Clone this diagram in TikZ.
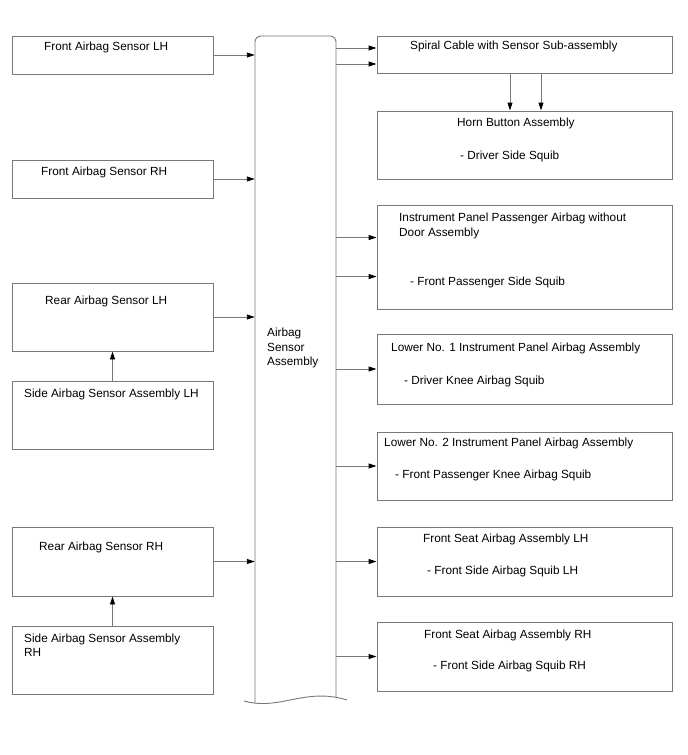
\documentclass[tikz,border=0pt]{standalone}
\usepackage{fontspec}
\setmainfont{Liberation Sans}
\usetikzlibrary{arrows.meta,fit}
\definecolor{linegray}{RGB}{120,120,120}
\tikzset{
  box/.style={draw=linegray, line width=0.9pt, inner sep=0pt, rectangle},
  txt/.style={anchor=base west, inner sep=0pt, font=\fontsize{11.8}{14.5}\selectfont},
  arr/.style={draw=linegray, line width=0.9pt, -{Triangle[length=8pt,width=5pt,color=black]}},
  ln/.style={draw=linegray, line width=0.9pt}
}
\begin{document}
\begin{tikzpicture}[x=1pt,y=-1pt]
\useasboundingbox (0,0) rectangle (688,755);
% left column
\node[box, fit={(12,36) (213,74)}] (fl) {};
\node[box, fit={(12,160) (213,198)}] (fr) {};
\node[box, fit={(12,283) (213,351)}] (rl) {};
\node[box, fit={(12,381) (213,449)}] (sl) {};
\node[box, fit={(12,527) (213,596)}] (rr) {};
\node[box, fit={(12,626) (213,694)}] (sr) {};
\node[txt] (flt) at (44,50) {Front Airbag Sensor LH};
\node[txt] (frt) at (41,175) {Front Airbag Sensor RH};
\node[txt] (rlt) at (45,304) {Rear Airbag Sensor LH};
\node[txt] (slt) at (24,397) {Side Airbag Sensor Assembly LH};
\node[txt] (rrt) at (39,550) {Rear Airbag Sensor RH};
\node[txt] (srt1) at (24,642) {Side Airbag Sensor Assembly};
\node[txt] (srt2) at (24,656) {RH};
% central
\node[inner sep=0pt, fit={(255,36) (336,703)}] (asa) {};
\draw[ln, rounded corners=6pt] (255,703) -- (255,36) -- (336,36) -- (336,697);
\draw[ln] (244,701) .. controls (280,711) and (305,687) .. (347,700);
\node[txt] (asa1) at (267,336) {Airbag};
\node[txt] (asa2) at (267,351) {Sensor};
\node[txt] (asa3) at (267,365) {Assembly};
% right column
\node[box, fit={(377,36) (672,73)}] (sp) {};
\node[box, fit={(377,111) (672,179)}] (hb) {};
\node[box, fit={(377,205) (672,309)}] (ip) {};
\node[box, fit={(377,334) (672,404)}] (l1) {};
\node[box, fit={(377,432) (672,500)}] (l2) {};
\node[box, fit={(377,527) (672,596)}] (fsl) {};
\node[box, fit={(377,622) (672,691)}] (fsr) {};
\node[txt] (spt) at (410,49) {Spiral Cable with Sensor Sub-assembly};
\node[txt] (hbt1) at (457,126) {Horn Button Assembly};
\node[txt] (hbt2) at (460,159) {- Driver Side Squib};
\node[txt] (ipt1) at (399,221) {Instrument Panel Passenger Airbag without};
\node[txt] (ipt2) at (399,236) {Door Assembly};
\node[txt] (ipt3) at (410,285) {- Front Passenger Side Squib};
\node[txt] (l1t1) at (391,351) {Lower No. 1 Instrument Panel Airbag Assembly};
\node[txt] (l1t2) at (404,384) {- Driver Knee Airbag Squib};
\node[txt] (l2t1) at (384,446) {Lower No. 2 Instrument Panel Airbag Assembly};
\node[txt] (l2t2) at (395,478) {- Front Passenger Knee Airbag Squib};
\node[txt] (fslt1) at (423,542) {Front Seat Airbag Assembly LH};
\node[txt] (fslt2) at (427,574) {- Front Side Airbag Squib LH};
\node[txt] (fsrt1) at (424,638) {Front Seat Airbag Assembly RH};
\node[txt] (fsrt2) at (433,669) {- Front Side Airbag Squib RH};
% connectors left
\draw[arr] (fl.east) -- (fl.east -| asa.west);
\draw[arr] (fr.east) -- (fr.east -| asa.west);
\draw[arr] (rl.east) -- (rl.east -| asa.west);
\draw[arr] (rr.east) -- (rr.east -| asa.west);
\draw[arr] (sl.north) -- (rl.south);
\draw[arr] (sr.north) -- (rr.south);
% connectors right
\draw[arr] ([yshift=6.5pt]sp.west -| asa.east) -- ([yshift=6.5pt]sp.west);
\draw[arr] ([yshift=-9.5pt]sp.west -| asa.east) -- ([yshift=-9.5pt]sp.west);
\draw[arr] ([xshift=-14.5pt]sp.south) -- ([xshift=-14.5pt]hb.north);
\draw[arr] ([xshift=16.5pt]sp.south) -- ([xshift=16.5pt]hb.north);
\draw[arr] ([yshift=-33pt]ip.north west -| asa.east) -- ([yshift=-33pt]ip.north west);
\draw[arr] ([yshift=-72pt]ip.north west -| asa.east) -- ([yshift=-72pt]ip.north west);
\draw[arr] (l1.west -| asa.east) -- (l1.west);
\draw[arr] (l2.west -| asa.east) -- (l2.west);
\draw[arr] (fsl.west -| asa.east) -- (fsl.west);
\draw[arr] (fsr.west -| asa.east) -- (fsr.west);
\end{tikzpicture}
\end{document}
